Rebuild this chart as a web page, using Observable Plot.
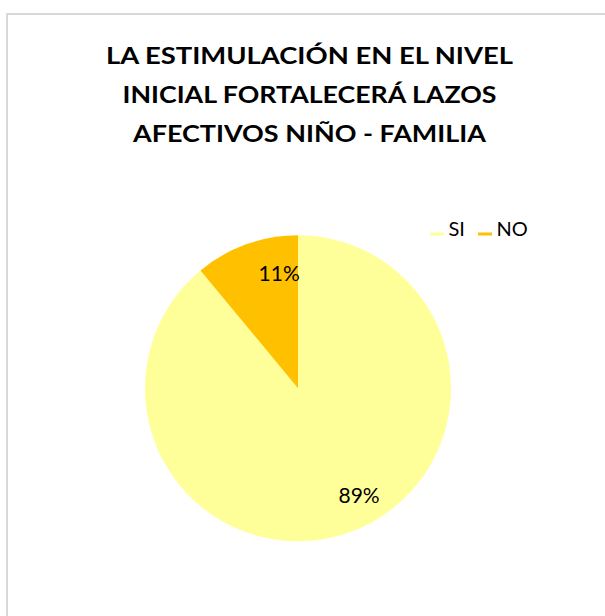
<!DOCTYPE html>
<html>
<head>
<meta charset="utf-8">
<script src="https://cdn.jsdelivr.net/npm/d3@7"></script>
<script src="https://cdn.jsdelivr.net/npm/@observablehq/plot@0.6"></script>
<style>
  html, body { margin: 0; padding: 0; background: #fff; }
  #chart svg { display: block; }
</style>
</head>
<body>
<div id="chart"></div>
<script>
// ---- data ----
const categories = ["SI", "NO"];
const values = [89, 11];
const colors = ["#FFFF99", "#FFC000"];
const labels = ["89%", "11%"];
const titleLines = ["LA ESTIMULACIÓN EN EL NIVEL", "INICIAL FORTALECERÁ LAZOS", "AFECTIVOS NIÑO - FAMILIA"];

// ---- layout ----
const W = 605, H = 616;
const cx = 298, cy = 388.3, R = 153;
const font = "Lato, 'Open Sans', sans-serif";
const titleX = 309, titleBase = 63.5, titleStep = 39;
const titleWidths = [407, 374, 353];
const legendX = [429.5, 477.5];
const legendY = 233.5;

const data = categories.map((c, i) => ({cat: c, value: values[i], color: colors[i], label: labels[i]}));
const arcs = d3.pie().sort(null).value(d => d.value)(data);

const labelR = 118;
const labelData = arcs.map(a => {
  const m = (a.startAngle + a.endAngle) / 2;
  return {x: cx + labelR * Math.sin(m), y: cy - labelR * Math.cos(m) + 3, text: a.data.label};
});

const titleData = titleLines.map((t, i) => ({t, x: titleX, y: titleBase + i * titleStep, w: titleWidths[i]}));
const legendData = data.map((d, i) => ({cat: d.cat, color: d.color, x: legendX[i]}));

const pieMark = (index, scales) => {
  const X = scales.x, Y = scales.y;
  const g = d3.create("svg:g").attr("transform", `translate(${X(cx)},${Y(cy)})`);
  const rr = Y(cy + R) - Y(cy);
  const arc = d3.arc().innerRadius(0).outerRadius(rr);
  g.selectAll("path").data(arcs).join("path")
    .attr("d", arc)
    .attr("fill", d => d.data.color);
  return g.node();
};

const chart = Plot.plot({
  width: W, height: H,
  margin: 0,
  x: {domain: [0, W], range: [0, W], axis: null},
  y: {domain: [0, H], range: [0, H], axis: null},
  style: {fontFamily: font, background: "#fff"},
  marks: [
    Plot.rect([{x1: 7, x2: W + 50, y1: 14, y2: H + 50}], {x1: "x1", x2: "x2", y1: "y1", y2: "y2", fill: "none", stroke: "#d9d9d9", strokeWidth: 2}),
    Plot.text(titleData, {x: "x", y: "y", text: "t", fontWeight: "bold", fontSize: 23, fill: "#000", lineAnchor: "bottom", textAnchor: "middle"}),
    pieMark,
    Plot.text(labelData, {x: "x", y: "y", text: "text", fontSize: 21, fill: "#000", lineAnchor: "bottom", textAnchor: "start", dx: [-2, 0].length ? 0 : 0}),
    Plot.link(legendData, {x1: d => d.x, x2: d => d.x + 14, y1: legendY, y2: legendY, stroke: "color", strokeWidth: 3}),
    Plot.text(legendData, {x: d => d.x + 18.5, y: legendY + 2, text: "cat", fontSize: 20, fill: "#000", lineAnchor: "bottom", textAnchor: "start"})
  ]
});

// force title widths to match
d3.select(chart).selectAll("text").each(function() {
  const t = this.textContent;
  const i = titleLines.indexOf(t);
  if (i >= 0) {
    this.setAttribute("textLength", titleWidths[i]);
    this.setAttribute("lengthAdjust", "spacingAndGlyphs");
  }
});

document.getElementById("chart").appendChild(chart);
</script>
</body>
</html>
